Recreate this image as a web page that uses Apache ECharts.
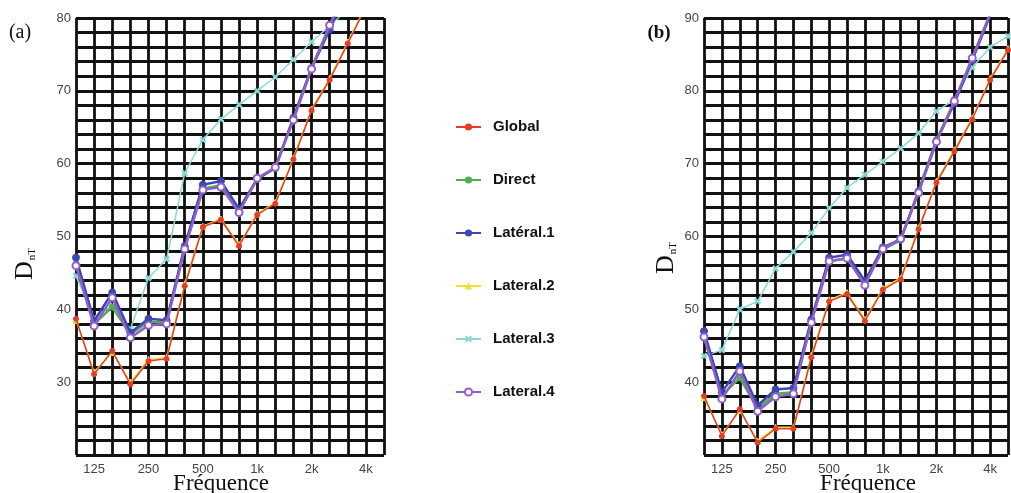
<!DOCTYPE html>
<html>
<head>
<meta charset="utf-8">
<script src="https://cdn.jsdelivr.net/npm/echarts@6/dist/echarts.min.js"></script>
<style>
  html, body { margin: 0; padding: 0; background: #fff; }
  #chart { width: 1011px; height: 493px; }
</style>
</head>
<body>
<div id="chart"></div>
<script>
// bandes de tiers d'octave (100 Hz -> 5 kHz)
const frequences = ['100', '125', '160', '200', '250', '315', '400', '500', '630', '800',
    '1k', '1.25k', '1.6k', '2k', '2.5k', '3.15k', '4k', '5k'];
const tickLabels = ['125', '250', '500', '1k', '2k', '4k'];
const seriesNames = ['Global', 'Direct', 'Latéral.1', 'Lateral.2', 'Lateral.3', 'Lateral.4'];

// (a)
const globalA = [38.7, 31.1, 34.3, 29.7, 32.9, 33.2, 43.2, 51.3, 52.3, 48.7, 53, 54.5, 60.6, 67.3, 71.5, 76.5, 81.5, 85.6];
const directA = [46.2, 38, 40.3, 36.6, 38.3, 38.2, 48.4, 56.6, 57, 53.4, 57.9, 59.4, 66.2, 73.2, 78.8, 84.4, 90.3, 95];
const lat1A = [47.1, 38.4, 42.3, 36.8, 38.7, 38.5, 48.7, 57.1, 57.6, 53.8, 57.9, 59.4, 66.3, 73.1, 78.4, 84.2, 90.4, 95];
const lat2A = [38.5, 31.4, 34.1, 30, 33.1, 33.4, 43.5, 51.4, 52.4, 48.9, 53.1, 54.7, 60.8, 67.5, 71.7, 76.7, 81.7, 85.8];
const lat3A = [44.6, 38.8, 40.5, 37.3, 44.3, 46.9, 58.7, 63.3, 66.1, 68.1, 70, 71.9, 74.3, 76.7, 78.9, 81.2, 83.3, 85];
const lat4A = [46, 37.7, 41.6, 36.1, 37.8, 38, 48.3, 56.4, 56.8, 53.3, 58, 59.5, 66, 73, 79, 84.6, 90.6, 95.5];

// (b)
const globalB = [38.1, 32.6, 36.3, 31.7, 33.6, 33.6, 43.4, 51.1, 52.1, 48.4, 52.7, 54.1, 61, 67.4, 71.7, 76.1, 81.5, 85.6];
const directB = [46.3, 38.2, 40.6, 36.4, 38.4, 38.6, 48.3, 56.6, 57, 53.5, 58.2, 59.5, 66.3, 73.3, 78.5, 84.4, 90.4, 95.5];
const lat1B = [47, 38.6, 42.2, 36.8, 39, 39.2, 48.6, 57.1, 57.5, 53.9, 58.5, 59.6, 66.2, 73.1, 78.3, 84.2, 90.4, 95.5];
const lat2B = [37.9, 32.8, 36.1, 31.9, 33.8, 33.8, 43.7, 51.3, 52.3, 48.6, 52.9, 54.3, 61.2, 67.6, 71.9, 76.3, 81.7, 85.8];
const lat3B = [43.6, 44.4, 50, 51.1, 55.6, 57.9, 60.5, 63.9, 66.7, 68.5, 70.3, 72.1, 74.2, 77.2, 78.8, 83.2, 86, 87.5];
const lat4B = [46.2, 37.7, 41.5, 36, 38, 38.4, 48.2, 56.6, 57, 53.3, 58.3, 59.7, 66, 73, 78.6, 84.5, 90.6, 95.8];

const crossPath = 'path://M2,0L5,3L8,0L10,2L7,5L10,8L8,10L5,7L2,10L0,8L3,5L0,2Z';

// style de chaque courbe
const styles = {
    'Global':    { color: '#e53b2c', width: 1.5, symbol: 'circle', size: 5, z: 6 },
    'Direct':    { color: '#4caf50', width: 2.5, symbol: 'circle', size: 6, z: 2 },
    'Latéral.1': { color: '#3c46b4', width: 2.5, symbol: 'circle', size: 7, z: 3 },
    'Lateral.2': { color: '#f0e030', width: 1.5, symbol: 'triangle', size: 6, z: 5 },
    'Lateral.3': { color: '#8dd8d2', width: 1.5, symbol: crossPath, size: 6, z: 1 },
    'Lateral.4': { color: '#9060c8', width: 2.5, symbol: 'emptyCircle', size: 7, z: 4 }
};

const gridLine = { show: true, lineStyle: { color: '#111', width: 2.8 } };
const labelFont = { color: '#444', fontSize: 13, fontFamily: 'Liberation Sans' };

function makeX(idx) {
    return {
        type: 'category',
        gridIndex: idx,
        data: frequences,
        boundaryGap: false,
        axisLine: { show: false },
        axisTick: { show: false },
        splitLine: Object.assign({ interval: 0 }, gridLine),
        axisLabel: Object.assign({
            interval: 0,
            margin: 8,
            formatter: v => tickLabels.includes(v) ? v : ''
        }, labelFont)
    };
}

function makeY(idx, min, max) {
    return {
        type: 'value',
        gridIndex: idx,
        min: min,
        max: max,
        interval: 2,
        axisLine: { show: false },
        axisTick: { show: false },
        splitLine: gridLine,
        axisLabel: Object.assign({
            margin: 5,
            fontSize: 14,
            formatter: v => (v % 10 === 0 && v !== min) ? v : ''
        }, labelFont)
    };
}

function makeSeries(name, data, idx) {
    const s = styles[name];
    return {
        name: name,
        type: 'line',
        xAxisIndex: idx,
        yAxisIndex: idx,
        data: data,
        z: s.z,
        symbol: s.symbol,
        symbolSize: s.size,
        color: s.color,
        lineStyle: { width: s.width, color: s.color },
        itemStyle: { color: s.color, borderColor: s.color },
        animation: false
    };
}

const panelA = [globalA, directA, lat1A, lat2A, lat3A, lat4A];
const panelB = [globalB, directB, lat1B, lat2B, lat3B, lat4B];

const series = [];
seriesNames.forEach((n, i) => {
    series.push(makeSeries(n, panelA[i], 0));
    series.push(makeSeries(n, panelB[i], 1));
});

const yTitle = (x, y) => ({
    type: 'text', x: x, y: y, rotation: Math.PI / 2,
    style: {
        text: '{d|D}{s|nT}',
        align: 'center', verticalAlign: 'middle',
        rich: {
            d: { fontSize: 26, fontFamily: 'Liberation Serif', fill: '#111' },
            s: { fontSize: 11, fontFamily: 'Liberation Serif', fill: '#111', verticalAlign: 'bottom', padding: [0, 0, 0, 1] }
        }
    }
});

const chart = echarts.init(document.getElementById('chart'));
chart.setOption({
    backgroundColor: '#fff',
    animation: false,
    grid: [
        { left: 76, top: 18, width: 308, height: 437 },
        { left: 704, top: 18, width: 308, height: 437 }
    ],
    xAxis: [makeX(0), makeX(1)],
    yAxis: [makeY(0, 20, 80), makeY(1, 30, 90)],
    legend: {
        orient: 'vertical',
        left: 450,
        top: 114,
        itemWidth: 25,
        itemHeight: 9,
        itemGap: 37,
        data: seriesNames,
        textStyle: {
            fontFamily: 'Liberation Sans', fontWeight: 'bold', fontSize: 15,
            color: '#111', lineHeight: 16, padding: [0, 0, 0, 7]
        }
    },
    graphic: [
        { type: 'text', x: 20, y: 33, style: { text: '(a)', font: '20px "Liberation Serif"', fill: '#111', align: 'center', verticalAlign: 'middle' } },
        { type: 'text', x: 659, y: 33, style: { text: '(b)', font: 'bold 19px "Liberation Serif"', fill: '#111', align: 'center', verticalAlign: 'middle' } },
        { type: 'text', x: 221, y: 484, style: { text: 'Fréquence', font: '23px "Liberation Serif"', fill: '#111', align: 'center', verticalAlign: 'middle' } },
        { type: 'text', x: 868, y: 484, style: { text: 'Fréquence', font: '23px "Liberation Serif"', fill: '#111', align: 'center', verticalAlign: 'middle' } },
        yTitle(25, 264),
        yTitle(666, 258)
    ],
    series: series
});
</script>
</body>
</html>
